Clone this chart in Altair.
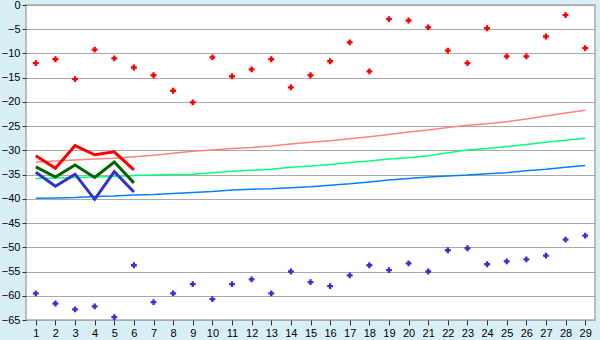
import altair as alt
import pandas as pd

x_all = list(range(1, 30))
x_short = [1, 2, 3, 4, 5, 6]

high_points = [-12.0, -11.2, -15.3, -9.2, -11.0, -12.9, -14.5, -17.7, -20.1, -10.8,
               -14.7, -13.3, -11.2, -17.0, -14.5, -11.6, -7.7, -13.7, -2.9, -3.2,
               -4.6, -9.4, -12.0, -4.8, -10.6, -10.6, -6.5, -2.1, -8.9]
low_points = [-59.5, -61.6, -62.8, -62.2, -64.4, -53.7, -61.3, -59.5, -57.6, -60.7,
              -57.6, -56.6, -59.5, -55.0, -57.2, -58.0, -55.8, -53.7, -54.7, -53.3,
              -55.0, -50.6, -50.2, -53.5, -52.9, -52.5, -51.7, -48.4, -47.6]

trend_pink = [-32.4, -32.2, -32.0, -31.8, -31.6, -31.3, -31.0, -30.6, -30.2, -29.9,
              -29.6, -29.4, -29.1, -28.7, -28.3, -28.0, -27.6, -27.2, -26.7, -26.2,
              -25.8, -25.3, -24.8, -24.5, -24.1, -23.5, -22.9, -22.3, -21.7]
trend_green = [-35.8, -35.7, -35.6, -35.5, -35.4, -35.2, -35.1, -35.0, -34.9, -34.6,
               -34.3, -34.1, -33.9, -33.5, -33.2, -32.9, -32.5, -32.2, -31.8, -31.5,
               -31.1, -30.5, -29.9, -29.6, -29.2, -28.8, -28.3, -27.9, -27.5]
trend_blue = [-39.9, -39.8, -39.7, -39.5, -39.4, -39.2, -39.1, -38.9, -38.7, -38.5,
              -38.2, -38.0, -37.9, -37.7, -37.5, -37.2, -36.9, -36.5, -36.1, -35.8,
              -35.5, -35.3, -35.1, -34.8, -34.6, -34.2, -33.9, -33.5, -33.1]

line_red = [-31.1, -33.7, -29.0, -30.9, -30.3, -34.0]
line_green = [-33.4, -35.5, -33.0, -35.6, -32.4, -36.7]
line_blue = [-34.5, -37.4, -34.9, -40.1, -34.4, -38.6]

y_ticks = list(range(-65, 1, 5))

trend_names = ["pink", "green", "blue"]
trend_colors = ["#ff8080", "#00ff80", "#0080ff"]
line_names = ["red", "dgreen", "dblue"]
line_colors = ["#ff0000", "#006400", "#3333cc"]

trend_df = pd.DataFrame(
    [{"x": xv, "y": yv, "s": n}
     for n, ys in zip(trend_names, [trend_pink, trend_green, trend_blue])
     for xv, yv in zip(x_all, ys)]
)
line_df = pd.DataFrame(
    [{"x": xv, "y": yv, "s": n}
     for n, ys in zip(line_names, [line_red, line_green, line_blue])
     for xv, yv in zip(x_short, ys)]
)
pts_df = pd.DataFrame(
    [{"x": xv, "y": yv, "s": n}
     for n, ys in zip(["hi", "lo"], [high_points, low_points])
     for xv, yv in zip(x_all, ys)]
)

FONT = "Liberation Sans"
xscale = alt.Scale(domain=[0.5, 29.5], nice=False, zero=False)
yscale = alt.Scale(domain=[-65, 0], nice=False, zero=False)
xaxis = alt.Axis(values=x_all, grid=False, domain=False, tickColor="#333333",
                 tickSize=5, labelFontSize=11, labelFont=FONT,
                 labelColor="black", labelPadding=2, title=None, labelAngle=0)
yaxis = alt.Axis(values=y_ticks, grid=True, gridColor="#aaaaaa", domain=False,
                 tickColor="#333333", tickSize=4, labelFontSize=11,
                 labelFont=FONT, labelColor="black", labelPadding=2,
                 title=None)

X = alt.X("x:Q", scale=xscale, axis=xaxis)
Y = alt.Y("y:Q", scale=yscale, axis=yaxis)

trends = alt.Chart(trend_df).mark_line(strokeWidth=1.5).encode(
    x=X, y=Y,
    color=alt.Color("s:N", scale=alt.Scale(domain=trend_names, range=trend_colors), legend=None),
    detail="s:N",
)
lines = alt.Chart(line_df).mark_line(strokeWidth=3).encode(
    x=X, y=Y,
    color=alt.Color("s:N", scale=alt.Scale(domain=line_names, range=line_colors), legend=None),
    detail="s:N",
)
points = alt.Chart(pts_df).mark_point(shape="cross", filled=True, size=34, opacity=1).encode(
    x=X, y=Y,
    fill=alt.Fill("s:N", scale=alt.Scale(domain=["hi", "lo"], range=["#ff0000", "#3333cc"]), legend=None),
)

chart = alt.layer(trends, lines, points).resolve_scale(color="independent").properties(
    width=569, height=315,
    autosize=alt.AutoSizeParams(type="none"),
    padding={"left": 26, "top": 5, "right": 5, "bottom": 20},
    background="#d9eff6",
).configure_view(fill="white", stroke="#aaaaaa", strokeWidth=1.5)

chart.save("out.html", embed_options={"renderer": "svg", "actions": False})
